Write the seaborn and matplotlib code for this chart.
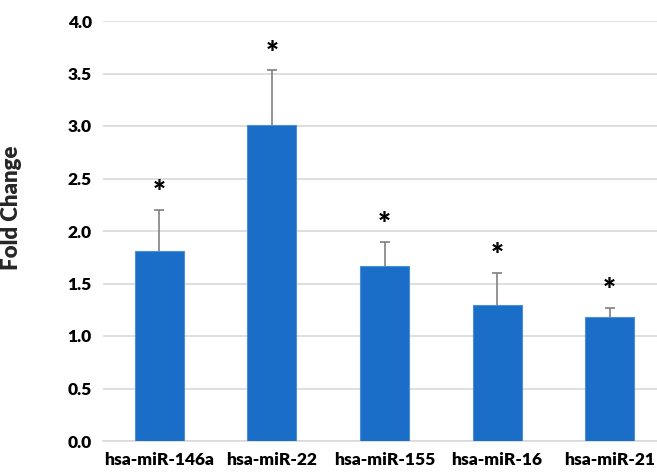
import numpy as np
import pandas as pd
import matplotlib
matplotlib.use("Agg")
import matplotlib.pyplot as plt
import seaborn as sns

mirnas = ["hsa-miR-146a", "hsa-miR-22", "hsa-miR-155", "hsa-miR-16", "hsa-miR-21"]
fold_change = [1.81, 3.01, 1.67, 1.30, 1.18]
error_up = [0.39, 0.52, 0.23, 0.30, 0.09]

df = pd.DataFrame({"mirna": mirnas, "fc": fold_change, "err": error_up})

sns.set_theme(style="white")
plt.rcParams['font.family'] = ['Lato', 'DejaVu Sans']

fig = plt.figure(figsize=(6.57, 4.74), dpi=100)
# plot area runs past the right edge like the cropped original
ax = fig.add_axes([103 / 657, 33 / 474, 563 / 657, 420 / 474])

bar_color = '#1a6ec8'
sns.barplot(data=df, x="mirna", y="fc", color=bar_color, width=0.435,
            edgecolor='#4a8fd8', linewidth=0.8, saturation=1, ax=ax, zorder=3)

# one-sided error bars: stem behind the bar, cap only on top
xs = np.arange(len(mirnas))
tops = df["fc"] + df["err"]
ax.vlines(xs, df["fc"], tops, color='#808080', linewidth=1.2, zorder=2)
ax.plot(xs, tops, linestyle='none', marker='_', markersize=7, markeredgewidth=1.2,
        color='#808080', zorder=2)

# significance stars
for i, t in enumerate(tops):
    ax.text(i, t + 0.16, "*", ha='center', va='center', fontsize=22,
            fontweight='heavy', color='black')

ax.set_ylim(0, 4.0)
ax.set_xlim(-0.5, len(mirnas) - 0.5)
ax.set_yticks(np.arange(0, 4.01, 0.5))
ax.set_yticklabels([f"{t:.1f}" for t in np.arange(0, 4.01, 0.5)])
ax.yaxis.grid(True, color='#d9d9d9', linewidth=1.2, zorder=0)
ax.set_axisbelow(True)
for s in ["top", "right", "left"]:
    ax.spines[s].set_visible(False)
ax.spines["bottom"].set_color('#d9d9d9')
ax.spines["bottom"].set_linewidth(1.2)

ax.tick_params(axis='both', length=0, labelsize=12.5, colors='black', pad=8)
for lbl in ax.get_xticklabels() + ax.get_yticklabels():
    lbl.set_fontweight('heavy')

ax.set_xlabel("")
ax.set_ylabel("Fold Change", fontsize=16, fontweight='heavy')
ax.yaxis.set_label_coords(-0.144, 0.555)

fig.savefig("out.png", dpi=100)
